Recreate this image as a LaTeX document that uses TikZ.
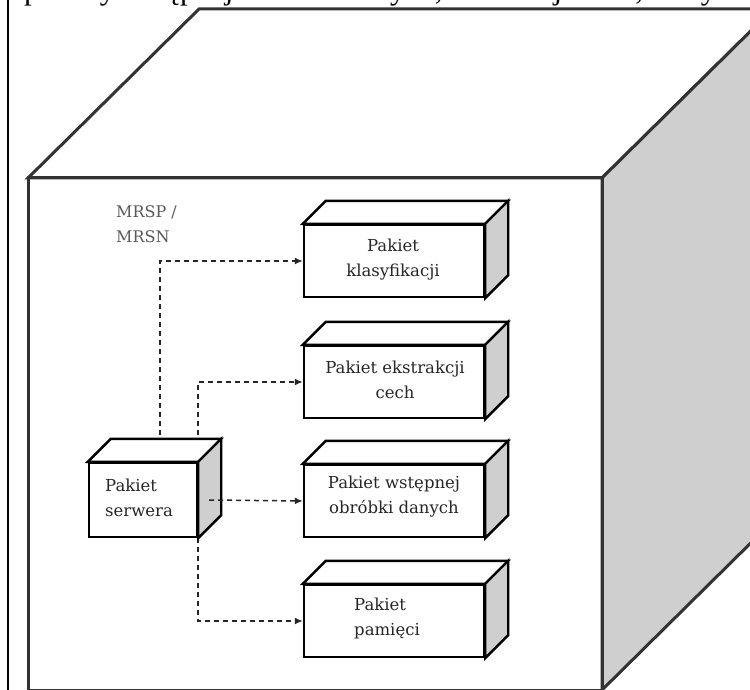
\documentclass[tikz,border=0pt]{standalone}
\usepackage{fontspec}
\setmainfont{DejaVu Serif}
\newfontfamily\capfont{Liberation Serif}
\usetikzlibrary{arrows.meta,calc}
\pgfdeclarelayer{bg}
\pgfdeclarelayer{back}
\pgfsetlayers{bg,back,main}

\begin{document}
\begin{tikzpicture}[x=1pt,y=-1pt,
  cubeline/.style={draw=black!80, line width=3pt, line join=miter},
  pkgface/.style={draw=black, line width=2.4pt, fill=white, inner sep=0pt,
    minimum width=180pt, minimum height=72pt},
  srvface/.style={pkgface, minimum width=108pt, minimum height=74pt},
  pkgtop/.style={draw=black, line width=2.4pt, fill=white, line join=miter},
  pkgside/.style={draw=black, line width=2.4pt, fill=black!19, line join=miter},
  flow/.style={dash pattern=on 5pt off 4pt, line width=1.5pt, draw=black!85,
    -{Latex[length=8pt,width=7pt]}},
  pkglabel/.style={font=\fontsize{16.5}{25}\selectfont, text=black!85, inner sep=0pt},
  notelabel/.style={font=\fontsize{16}{25}\selectfont, text=black!65, inner sep=0pt, align=left},
]
\useasboundingbox (0,0) rectangle (750,690);

% enclosing node drawn as a large cube
\begin{pgfonlayer}{bg}
  \begin{scope}
  \clip (0,0) rectangle (750,690);
  \fill[white] (0,0) rectangle (750,690);
  \coordinate (cfl) at (28,178);
  \coordinate (cfr) at (602,178);
  \coordinate (cbr) at (602,690);
  \coordinate (cbl) at (28,690);
  \filldraw[cubeline, fill=white] (cfl) -- ++(171,-169) -- ($(cfr)+(171,-169)$) -- (cfr) -- cycle;
  \filldraw[cubeline, fill=black!19] (cfr) -- ++(171,-169) -- ($(cbr)+(171,-169)$) -- (cbr) -- cycle;
  \draw[cubeline] (cfl) rectangle (cbr);
  % page margin rule and the text line above the figure
  \draw[line width=2pt, black] (8,0) -- (8,690);
  \node[anchor=base west, inner sep=0pt, font=\capfont\fontsize{31}{31}\selectfont] (caption)
    at (24,0) {pakiety wstępnej obróbki danych, ekstrakcji cech, klasyfikacji,};
  \end{scope}
\end{pgfonlayer}

% package front faces
\node[pkgface] (klas) at (394,261) {};
\node[pkgface] (ekst) at (394,382) {};
\node[pkgface] (wst)  at (394,501) {};
\node[pkgface] (pam)  at (394,621) {};
\node[srvface] (serw) at (143,500) {};

% top and side faces of each package
\foreach \n in {klas,ekst,wst,pam,serw} {
  \filldraw[pkgtop] (\n.north west) -- ++(23,-23) -- ($(\n.north east)+(23,-23)$) -- (\n.north east) -- cycle;
  \filldraw[pkgside] (\n.north east) -- ++(23,-23) -- ($(\n.south east)+(23,-23)$) -- (\n.south east) -- cycle;
}

% labels
\node[pkglabel, align=center] (klasL) at (393,260) {Pakiet\\klasyfikacji};
\node[pkglabel, align=center] (ekstL) at (395,380) {Pakiet ekstrakcji\\cech};
\node[pkglabel, align=center] (wstL)  at (394,497) {Pakiet wstępnej\\obróbki danych};
\node[pkglabel, align=left, anchor=west] (pamL) at (354,618) {Pakiet\\pamięci};
\node[pkglabel, align=left, anchor=west] (serwL) at (105,498) {Pakiet\\serwera};
\node[notelabel, anchor=west] (mrsp) at (116,224) {MRSP /\\MRSN};

% dependencies from the server package
\begin{pgfonlayer}{back}
  \draw[flow] ([xshift=17pt]serw.north) |- (klas.west);
  \draw[flow] (serw.north east) |- (ekst.west);
  \draw[flow] (serw.south east) |- (pam.west);
\end{pgfonlayer}
\draw[flow] ([xshift=11pt]serw.east) -- (wst.west);
\end{tikzpicture}
\end{document}
